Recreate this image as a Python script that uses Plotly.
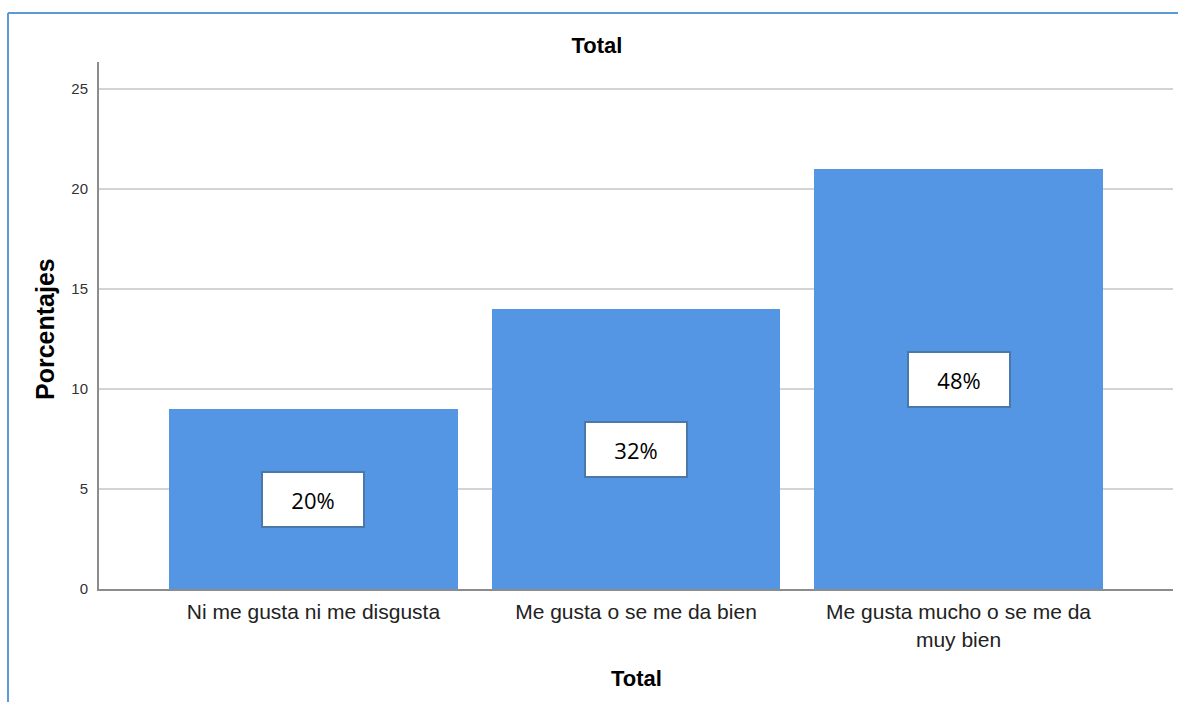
import plotly.graph_objects as go

categories = ["Ni me gusta ni me disgusta", "Me gusta o se me da bien", "Me gusta mucho o se me da<br>muy bien"]
values = [9, 14, 21]
labels = ["20%", "32%", "48%"]
y_ticks = [0, 5, 10, 15, 20, 25]

W, H = 1178, 702
L, R, T, B = 99, 5, 62, 113
pw, ph = W - L - R, H - T - B

def px_x(x):
    return (x - L) / pw

def px_y(y):
    return (H - B - y) / ph

fig = go.Figure()
fig.add_trace(go.Bar(
    x=list(range(len(categories))), y=values, width=0.896,
    marker=dict(color="#5596e4", line=dict(width=0)),
    hoverinfo="skip",
))

annotations = []
for i, (v, lab) in enumerate(zip(values, labels)):
    annotations.append(dict(
        x=i, y=v / 2, xref="x", yref="y", text=lab, showarrow=False,
        font=dict(family="Open Sans, Liberation Sans, Arial", size=22, color="#000000"),
        bgcolor="#ffffff", bordercolor="#4a78a8", borderwidth=2, borderpad=1,
        width=98, height=51, align="center", valign="middle",
    ))

annotations.append(dict(
    x=px_x(636), y=px_y(678), xref="paper", yref="paper", text="<b>Total</b>",
    showarrow=False, font=dict(family="Liberation Sans, Arial", size=22, color="#000000"),
    xanchor="center", yanchor="middle",
))
annotations.append(dict(
    x=px_x(45), y=px_y(329), xref="paper", yref="paper", text="<b>Porcentajes</b>",
    showarrow=False, textangle=-90,
    font=dict(family="Liberation Sans, Arial", size=25, color="#000000"),
    xanchor="center", yanchor="middle",
))

shapes = [
    dict(type="line", xref="paper", yref="paper", x0=px_x(8), x1=px_x(1180), y0=px_y(13), y1=px_y(13),
         line=dict(color="#5b9bd5", width=2)),
    dict(type="line", xref="paper", yref="paper", x0=px_x(8), x1=px_x(8), y0=px_y(13), y1=px_y(704),
         line=dict(color="#5b9bd5", width=2)),
]

fig.update_layout(
    width=W, height=H,
    margin=dict(l=L, r=R, t=T, b=B, autoexpand=False),
    paper_bgcolor="#ffffff", plot_bgcolor="#ffffff",
    showlegend=False,
    bargap=0,
    title=dict(text="<b>Total</b>", x=597 / W, xref="container", xanchor="center",
               y=1 - 45 / H, yref="container", yanchor="middle",
               font=dict(family="Liberation Sans, Arial", size=22, color="#000000")),
    xaxis=dict(
        tickmode="array", tickvals=list(range(len(categories))), ticktext=categories,
        range=[-0.665, 2.665], showgrid=False, zeroline=False,
        showline=True, linecolor="#8c8c8c", linewidth=2, ticks="",
        tickfont=dict(family="Liberation Sans, Arial", size=21, color="#222222"),
        automargin=False, ticklabelstandoff=3,
    ),
    yaxis=dict(
        tickmode="array", tickvals=y_ticks, range=[0, 26.35],
        showgrid=True, gridcolor="#d4d4d4", gridwidth=2, zeroline=False,
        showline=True, linecolor="#8c8c8c", linewidth=2, ticks="",
        tickfont=dict(family="Liberation Sans, Arial", size=15, color="#333333"),
        automargin=False, ticklabelstandoff=6,
    ),
    annotations=annotations,
    shapes=shapes,
)

fig.write_html("out.html", config={"displayModeBar": False},
               post_script="document.body.style.margin='0px';document.body.style.overflow='hidden';")
